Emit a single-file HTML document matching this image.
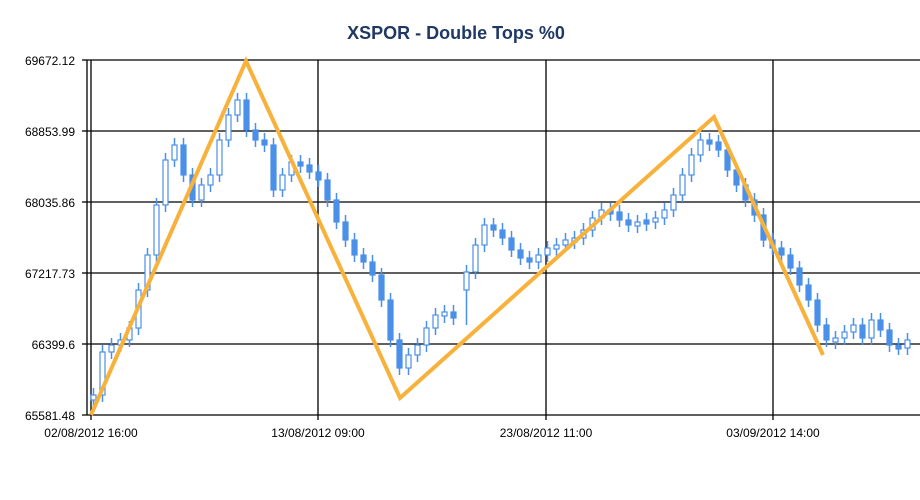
<!DOCTYPE html>
<html><head><meta charset="utf-8"><style>
body{margin:0;background:#fff;}
svg{display:block;font-family:"Liberation Sans",sans-serif;}
.f{fill:#4a8fe8;stroke:#4a8fe8;stroke-width:1.2}
.h{fill:#fff;stroke:#4a8fe8;stroke-width:1.2}
</style></head><body>
<svg width="920" height="500" xmlns="http://www.w3.org/2000/svg">
<rect width="920" height="500" fill="#fff"/>
<text x="456" y="39" text-anchor="middle" font-size="18" font-weight="bold" fill="#1f3864">XSPOR - Double Tops %0</text>
<g stroke="#000" stroke-width="1.3" fill="none">
<line x1="87" y1="60" x2="920" y2="60"/><line x1="87" y1="131" x2="920" y2="131"/>
<line x1="87" y1="202" x2="920" y2="202"/><line x1="87" y1="273" x2="920" y2="273"/>
<line x1="87" y1="344" x2="920" y2="344"/><line x1="82" y1="415" x2="920" y2="415"/>
<line x1="87" y1="60" x2="87" y2="415"/>
<line x1="91" y1="60" x2="91" y2="420"/><line x1="318" y1="60" x2="318" y2="420"/>
<line x1="546" y1="60" x2="546" y2="420"/><line x1="773" y1="60" x2="773" y2="420"/>
<line x1="82" y1="60" x2="87" y2="60"/><line x1="82" y1="131" x2="87" y2="131"/><line x1="82" y1="202" x2="87" y2="202"/><line x1="82" y1="273" x2="87" y2="273"/><line x1="82" y1="344" x2="87" y2="344"/>
</g>
<g font-size="12" fill="#000" text-anchor="end">
<text x="75" y="65">69672.12</text><text x="75" y="136">68853.99</text><text x="75" y="207">68035.86</text><text x="75" y="278">67217.73</text><text x="75" y="349">66399.6</text><text x="75" y="420">65581.48</text>
</g>
<g font-size="12" fill="#000" text-anchor="middle">
<text x="91" y="437">02/08/2012 16:00</text><text x="318" y="437">13/08/2012 09:00</text><text x="546" y="437">23/08/2012 11:00</text><text x="773" y="437">03/09/2012 14:00</text>
</g>
<path fill="none" stroke="#4a8fe8" stroke-width="1.5" d="M93.5 388V407M102.5 345V402M111.5 338V359M120.5 333V352M129.5 321V347M138.5 283V335M147.5 248V297M156.5 198V262M165.5 153V212M174.5 138V167M183.5 138V182M192.5 168V207M201.5 178V207M210.5 168V192M219.5 133V182M228.5 108V147M237.5 93V122M246.5 93V137M255.5 123V147M264.5 133V152M273.5 138V197M282.5 168V197M291.5 155V182M300.5 155V173M309.5 158V179M318.5 165V187M327.5 173V207M336.5 193V229M345.5 215V247M354.5 233V262M363.5 248V269M372.5 255V282M381.5 268V307M390.5 293V347M399.5 333V375M408.5 348V375M417.5 338V362M426.5 321V352M435.5 308V335M444.5 305V323M453.5 305V325M466.5 265V325M475.5 238V279M484.5 218V252M493.5 218V237M502.5 223V245M511.5 231V257M520.5 243V265M529.5 251V269M538.5 248V269M547.5 241V262M556.5 238V256M565.5 233V252M574.5 231V249M583.5 223V245M592.5 211V237M601.5 203V225M610.5 203V221M619.5 205V227M628.5 213V232M637.5 215V233M646.5 213V231M655.5 211V229M664.5 203V225M673.5 188V217M682.5 168V202M691.5 148V182M700.5 133V162M709.5 133V151M718.5 135V157M727.5 143V177M736.5 163V192M745.5 178V207M754.5 193V222M763.5 208V247M772.5 233V255M781.5 241V262M790.5 248V275M799.5 261V292M808.5 278V307M817.5 293V332M826.5 318V347M835.5 331V349M844.5 325V345M853.5 318V339M862.5 318V345M871.5 313V345M880.5 313V337M889.5 323V352M898.5 338V355M907.5 333V355"/>
<rect class="h" x="91" y="395" width="5" height="5"/>
<rect class="h" x="100" y="352" width="5" height="43"/>
<rect class="h" x="109" y="345" width="5" height="7"/>
<rect class="h" x="118" y="340" width="5" height="5"/>
<rect class="h" x="127" y="328" width="5" height="12"/>
<rect class="h" x="136" y="290" width="5" height="38"/>
<rect class="h" x="145" y="255" width="5" height="35"/>
<rect class="h" x="154" y="205" width="5" height="50"/>
<rect class="h" x="163" y="160" width="5" height="45"/>
<rect class="h" x="172" y="145" width="5" height="15"/>
<rect class="f" x="181" y="145" width="5" height="30"/>
<rect class="f" x="190" y="175" width="5" height="25"/>
<rect class="h" x="199" y="185" width="5" height="15"/>
<rect class="h" x="208" y="175" width="5" height="10"/>
<rect class="h" x="217" y="140" width="5" height="35"/>
<rect class="h" x="226" y="115" width="5" height="25"/>
<rect class="h" x="235" y="100" width="5" height="15"/>
<rect class="f" x="244" y="100" width="5" height="30"/>
<rect class="f" x="253" y="130" width="5" height="10"/>
<rect class="f" x="262" y="140" width="5" height="5"/>
<rect class="f" x="271" y="145" width="5" height="45"/>
<rect class="h" x="280" y="175" width="5" height="15"/>
<rect class="h" x="289" y="162" width="5" height="13"/>
<rect class="f" x="298" y="162" width="5" height="4"/>
<rect class="f" x="307" y="165" width="5" height="7"/>
<rect class="f" x="316" y="172" width="5" height="8"/>
<rect class="f" x="325" y="180" width="5" height="20"/>
<rect class="f" x="334" y="200" width="5" height="22"/>
<rect class="f" x="343" y="222" width="5" height="18"/>
<rect class="f" x="352" y="240" width="5" height="15"/>
<rect class="f" x="361" y="255" width="5" height="7"/>
<rect class="f" x="370" y="262" width="5" height="13"/>
<rect class="f" x="379" y="275" width="5" height="25"/>
<rect class="f" x="388" y="300" width="5" height="40"/>
<rect class="f" x="397" y="340" width="5" height="28"/>
<rect class="h" x="406" y="355" width="5" height="13"/>
<rect class="h" x="415" y="345" width="5" height="10"/>
<rect class="h" x="424" y="328" width="5" height="17"/>
<rect class="h" x="433" y="315" width="5" height="13"/>
<rect class="h" x="442" y="312" width="5" height="4"/>
<rect class="f" x="451" y="312" width="5" height="6"/>
<rect class="h" x="464" y="272" width="5" height="18"/>
<rect class="h" x="473" y="245" width="5" height="27"/>
<rect class="h" x="482" y="225" width="5" height="20"/>
<rect class="f" x="491" y="225" width="5" height="5"/>
<rect class="f" x="500" y="230" width="5" height="8"/>
<rect class="f" x="509" y="238" width="5" height="12"/>
<rect class="f" x="518" y="250" width="5" height="8"/>
<rect class="f" x="527" y="258" width="5" height="4"/>
<rect class="h" x="536" y="255" width="5" height="7"/>
<rect class="h" x="545" y="248" width="5" height="7"/>
<rect class="h" x="554" y="245" width="5" height="4"/>
<rect class="h" x="563" y="240" width="5" height="5"/>
<rect class="h" x="572" y="238" width="5" height="4"/>
<rect class="h" x="581" y="230" width="5" height="8"/>
<rect class="h" x="590" y="218" width="5" height="12"/>
<rect class="h" x="599" y="210" width="5" height="8"/>
<rect class="f" x="608" y="210" width="5" height="4"/>
<rect class="f" x="617" y="212" width="5" height="8"/>
<rect class="f" x="626" y="220" width="5" height="5"/>
<rect class="h" x="635" y="222" width="5" height="4"/>
<rect class="f" x="644" y="220" width="5" height="4"/>
<rect class="h" x="653" y="218" width="5" height="4"/>
<rect class="h" x="662" y="210" width="5" height="8"/>
<rect class="h" x="671" y="195" width="5" height="15"/>
<rect class="h" x="680" y="175" width="5" height="20"/>
<rect class="h" x="689" y="155" width="5" height="20"/>
<rect class="h" x="698" y="140" width="5" height="15"/>
<rect class="f" x="707" y="140" width="5" height="4"/>
<rect class="f" x="716" y="142" width="5" height="8"/>
<rect class="f" x="725" y="150" width="5" height="20"/>
<rect class="f" x="734" y="170" width="5" height="15"/>
<rect class="f" x="743" y="185" width="5" height="15"/>
<rect class="f" x="752" y="200" width="5" height="15"/>
<rect class="f" x="761" y="215" width="5" height="25"/>
<rect class="f" x="770" y="240" width="5" height="8"/>
<rect class="f" x="779" y="248" width="5" height="7"/>
<rect class="f" x="788" y="255" width="5" height="13"/>
<rect class="f" x="797" y="268" width="5" height="17"/>
<rect class="f" x="806" y="285" width="5" height="15"/>
<rect class="f" x="815" y="300" width="5" height="25"/>
<rect class="f" x="824" y="325" width="5" height="15"/>
<rect class="h" x="833" y="338" width="5" height="4"/>
<rect class="h" x="842" y="332" width="5" height="6"/>
<rect class="h" x="851" y="325" width="5" height="7"/>
<rect class="f" x="860" y="325" width="5" height="13"/>
<rect class="h" x="869" y="320" width="5" height="18"/>
<rect class="f" x="878" y="320" width="5" height="10"/>
<rect class="f" x="887" y="330" width="5" height="15"/>
<rect class="f" x="896" y="345" width="5" height="4"/>
<rect class="h" x="905" y="340" width="5" height="8"/>
<polyline points="91,415 246,61 400,398 714,117 823,355" fill="none" stroke="#f8b13a" stroke-width="4"/>
</svg>
</body></html>
